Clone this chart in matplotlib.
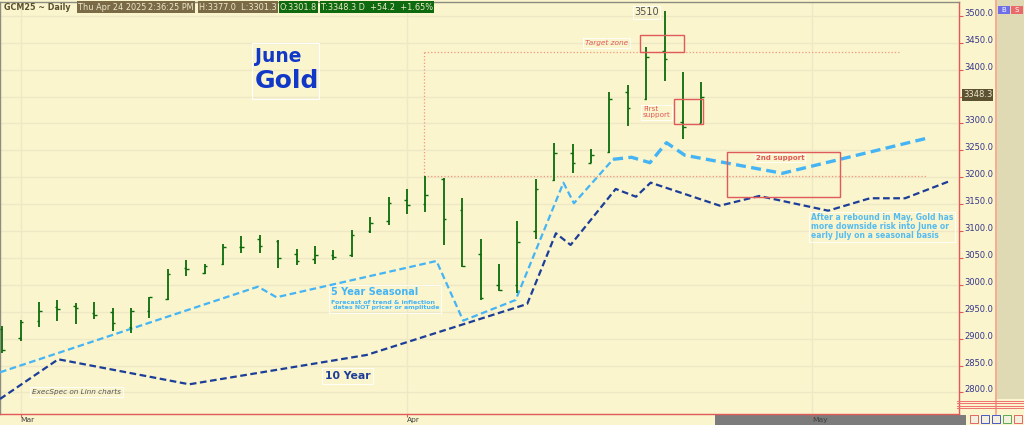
import numpy as np
import pandas as pd
import matplotlib
matplotlib.use("Agg")
import matplotlib.pyplot as plt
from matplotlib.patches import Rectangle
from matplotlib.lines import Line2D

plt.rcParams['font.family'] = ['DejaVu Sans']

# daily bars, x = trading day index (0 = Mar 3 2025)
bar_idx = list(range(-1, 38))
opens = [2918.0, 2900.7, 2932.9, 2958.9, 2960.2, 2948.4, 2949.0, 2922.4, 2951.5, 2973.2,
         3031.4, 3021.5, 3038.3, 3071.1, 3086.0, 3082.3, 3056.9, 3047.6, 3055.0, 3055.0,
         3100.8, 3119.4, 3157.8, 3149.8, 3196.3, 3139.3, 3056.8, 2999.8, 2999.2, 3100.2,
         3195.0, 3245.8, 3227.2, 3247.7, 3358.6, 3346.2, 3435.4, 3303.4, 3301.8]
highs = [2924.3, 2934.2, 2968.2, 2971.3, 2965.8, 2968.9, 2956.5, 2957.7, 2978.1, 3030.2,
         3046.3, 3039.5, 3076.0, 3090.9, 3093.4, 3083.5, 3067.4, 3071.7, 3065.5, 3102.7,
         3125.6, 3162.8, 3177.7, 3203.1, 3198.1, 3161.0, 3085.4, 3038.2, 3119.4, 3196.3,
         3263.2, 3262.0, 3252.0, 3358.0, 3371.6, 3442.9, 3509.8, 3396.4, 3377.0]
lows = [2874.1, 2895.7, 2921.8, 2932.9, 2928.0, 2936.0, 2914.3, 2911.2, 2939.1, 2972.0,
        3016.6, 3019.7, 3036.4, 3058.7, 3060.0, 3030.8, 3036.4, 3039.5, 3047.0, 3052.5,
        3097.1, 3112.0, 3131.2, 3136.2, 3073.6, 3032.7, 2972.0, 2989.3, 2984.4, 3086.0,
        3193.2, 3208.7, 3226.0, 3245.8, 3295.4, 3343.7, 3379.0, 3270.6, 3301.3]
closes = [2878.4, 2931.0, 2950.9, 2955.8, 2957.0, 2944.0, 2928.6, 2950.9, 2976.9, 3020.9,
          3030.2, 3035.8, 3069.9, 3069.9, 3072.3, 3049.4, 3045.0, 3055.0, 3052.5, 3092.2,
          3115.7, 3152.3, 3147.9, 3167.8, 3122.5, 3035.8, 2975.1, 2990.6, 3080.4, 3178.3,
          3244.6, 3226.6, 3240.9, 3346.2, 3328.2, 3424.3, 3419.9, 3294.2, 3348.3]

# seasonal forecast lines (vertices)
s5_x = [-1.125, 12.9, 13.9, 22.6, 24.05, 26.9, 29.5, 30.07, 32.2]
s5_y = [2837.5, 2996.7, 2977.0, 3044.4, 2933.5, 2971.9, 3189.9, 3151.7, 3233.4]
s5f_x = [32.2, 33.2, 34.2, 35.1, 36.1, 41.4, 49.24]
s5f_y = [3233.4, 3237.2, 3227.1, 3264.3, 3240.9, 3207.4, 3272.5]
s10_x = [-1.125, 2.04, 9.16, 18.8, 27.53, 29.09, 29.89, 32.34, 33.44, 34.24,
         38.0, 40.14, 43.89, 46.16, 48.07, 50.41]
s10_y = [2787.9, 2861.7, 2815.2, 2869.7, 2964.5, 3095.9, 3074.2, 3178.3, 3163.9, 3190.0,
         3147.2, 3165.2, 3137.9, 3161.0, 3161.0, 3191.8]

month_ticks = [0, 21, 43]
month_labels = ['Mar', 'Apr', 'May']
price_ticks = np.arange(2800, 3501, 50)
last_price = 3348.3

bg = '#FAF5CD'
grid_c = '#EEE8C5'
bar_c = '#0B6B0B'
c5 = '#45B4F5'
c10 = '#1D3E98'
red = '#E05A5A'
salmon = '#F4967A'

fig = plt.figure(figsize=(10.24, 4.25), dpi=100, facecolor=bg)
ax = fig.add_axes([0, 11/425, 959/1024, 412/425], facecolor=bg)
ax.set_xlim(-1.125, 51.0)
ax.set_ylim(2760, 3525.8)

ax.set_yticks(price_ticks)
ax.set_xticks(month_ticks)
ax.set_xticklabels(month_labels)
ax.grid(True, color=grid_c, lw=1.0)
ax.set_axisbelow(True)
ax.yaxis.tick_right()
ax.tick_params(axis='y', colors=red, labelcolor='#35358A', labelsize=6.0, length=3, pad=1)
# 3350 label sits under the last price tag
ax.set_yticklabels(['' if abs(v - last_price) < 25 else '%.1f' % v for v in price_ticks])
for lbl in ax.get_yticklabels():
    lbl.set_va('baseline')
ax.tick_params(axis='x', colors=red, labelcolor='#404040', labelsize=5.4, length=2, pad=0)
for lbl in ax.get_xticklabels():
    lbl.set_ha('left')
for s in ['right', 'bottom']:
    ax.spines[s].set_color(red)
    ax.spines[s].set_linewidth(1.0)
for s in ['left', 'top']:
    ax.spines[s].set_color('#8C8C80')
    ax.spines[s].set_linewidth(1.0)

# OHLC bars
tk = 0.14
ax.vlines(bar_idx, lows, highs, color=bar_c, lw=1.3, zorder=4)
ax.hlines(opens, np.array(bar_idx) - tk, bar_idx, color=bar_c, lw=1.0, zorder=4)
ax.hlines(closes, bar_idx, np.array(bar_idx) + tk, color=bar_c, lw=1.0, zorder=4)

# seasonal lines
ax.plot(s5_x, s5_y, color=c5, lw=1.6, ls=(0, (3, 1.6)), zorder=3)
ax.plot(s5f_x, s5f_y, color=c5, lw=2.4, ls=(0, (3, 1.6)), zorder=3)
ax.plot(s10_x, s10_y, color=c10, lw=1.6, ls=(0, (3, 1.6)), zorder=3)

# dotted price range
ax.plot([21.92, 21.92], [3201.9, 3433.5], color=salmon, lw=0.9, ls=':', zorder=2)
ax.plot([21.92, 47.73], [3433.5, 3433.5], color=salmon, lw=0.9, ls=':', zorder=2)
ax.plot([21.92, 49.24], [3201.9, 3201.9], color=salmon, lw=0.9, ls=':', zorder=2)

# zones
ax.add_patch(Rectangle((33.67, 3433.4), 2.4, 30.5, fill=False, ec=red, lw=1.0, zorder=5))
ax.add_patch(Rectangle((35.52, 3298.5), 1.58, 46.5, fill=False, ec=red, lw=1.0, zorder=5))
ax.add_patch(Rectangle((38.4, 3163.4), 6.14, 83.6, fill=False, ec=red, lw=1.0, zorder=5))
ax.add_patch(Rectangle((12.55, 3346.1), 3.68, 104.1, fill=False, ec='white', lw=0.8, zorder=2))

# text
ax.text(12.75, 3424.9, 'June', color='#1238C8', fontsize=13.5, fontweight='bold', va='center')
ax.text(12.72, 3378.4, 'Gold', color='#1238C8', fontsize=18, fontweight='bold', va='center')
ax.text(34.02, 3506.7, '3510', color='#505050', fontsize=7, ha='center', va='center',
        bbox=dict(boxstyle='square,pad=0.15', fc='none', ec='white', lw=0.6))
ax.text(30.67, 3449.6, 'Target zone', color=red, fontsize=5.3, style='italic', va='center',
        bbox=dict(boxstyle='square,pad=0.2', fc='none', ec='white', lw=0.6))
ax.text(33.82, 3320.8, 'First\nsupport', color=red, fontsize=5.2, va='center', linespacing=1.05,
        bbox=dict(boxstyle='square,pad=0.2', fc='none', ec='white', lw=0.6))
ax.text(41.27, 3235.9, '2nd support', color=red, fontsize=5.0, fontweight='bold', ha='center', va='center',
        bbox=dict(boxstyle='square,pad=0.15', fc='none', ec='white', lw=0.6))
ax.text(42.95, 3107.6, 'After a rebound in May, Gold has\nmore downside risk into June or\nearly July on a seasonal basis',
        color='#55BCF0', fontsize=5.5, fontweight='bold', va='center', linespacing=1.0,
        bbox=dict(boxstyle='square,pad=0.2', fc='none', ec='white', lw=0.6))
ax.text(16.86, 2987.4, '5 Year Seasonal', color=c5, fontsize=7, fontweight='bold', va='center')
ax.text(16.86, 2963.0, 'Forecast of trend & inflection\n dates NOT pricer or amplitude', color=c5,
        fontsize=4.5, fontweight='bold', va='center', linespacing=1.1)
ax.add_patch(Rectangle((16.76, 2948), 6.1, 52, fill=False, ec='white', lw=0.6, zorder=2))
ax.text(16.54, 2830.7, '10 Year', color=c10, fontsize=7.8, fontweight='bold', va='center',
        bbox=dict(boxstyle='square,pad=0.25', fc='none', ec='white', lw=0.6))
ax.text(0.63, 2800.9, 'ExecSpec on Linn charts', color='#555555', fontsize=5.2, style='italic', va='center',
        bbox=dict(boxstyle='square,pad=0.25', fc='none', ec='white', lw=0.6))

# last price tag on the axis
ax.text(1.004, last_price, '%.1f' % last_price, transform=ax.get_yaxis_transform(), color='#EEE8CC',
        fontsize=6.0, va='baseline', ha='left', clip_on=False, zorder=6,
        bbox=dict(boxstyle='square,pad=0.15', fc='#5C5232', ec='none'))

# header
fig.text(4/1024, 1 - 7/425, 'GCM25 ~ Daily', color='#5A5030', fontsize=5.8, fontweight='bold', va='center')
hdr = [(78.5, 'Thu Apr 24 2025', '#7A6A45'), (148.5, '2:36:25 PM', '#7A6A45'),
       (198.8, 'H:3377.0  L:3301.3', '#7A6A45'), (279.8, 'O:3301.8', '#0E6A0E'),
       (320.8, 'T:3348.3 D  +54.2  +1.65%', '#0E6A0E')]
for hx, ht, hc in hdr:
    fig.text(hx/1024, 1 - 7/425, ht, color='#EEE8CC', fontsize=5.9, va='center',
             bbox=dict(boxstyle='square,pad=0.15', fc=hc, ec='none'))

# right side panel and decorations
fig.add_artist(Rectangle((997/1024, 26/425), 27/1024, 399/425, transform=fig.transFigure,
                         fc='#DFDAB4', ec='none'))
fig.add_artist(Line2D([996/1024, 996/1024], [11/425, 1], transform=fig.transFigure, color='#F4A088', lw=1.2))
for yy in [400.7, 403.2, 405.7, 408.3]:
    fig.add_artist(Line2D([957/1024, 1], [1 - yy/425] * 2, transform=fig.transFigure, color='#F07070', lw=0.7))
fig.add_artist(Rectangle((997.5/1024, 1 - 13.5/425), 12/1024, 8/425, transform=fig.transFigure,
                         fc='#6E6EE6', ec='none'))
fig.add_artist(Rectangle((1011/1024, 1 - 13.5/425), 12/1024, 8/425, transform=fig.transFigure,
                         fc='#E86A6A', ec='none'))
fig.text(1003.5/1024, 1 - 9.5/425, 'B', color='white', fontsize=5, ha='center', va='center')
fig.text(1017/1024, 1 - 9.5/425, 'S', color='white', fontsize=5, ha='center', va='center')
fig.add_artist(Rectangle((715/1024, 0), 251/1024, 10.5/425, transform=fig.transFigure,
                         fc='#7C7C7C', ec='none', zorder=-1))
for ix, ic in zip([970, 981, 992, 1003, 1014], ['#E05050', '#3040C0', '#3040C0', '#40A040', '#E05050']):
    fig.add_artist(Rectangle((ix/1024, 2/425), 8/1024, 8/425, transform=fig.transFigure,
                             fc='#F4F0E0', ec=ic, lw=0.6))

fig.savefig('out.png', dpi=100, facecolor=bg)
